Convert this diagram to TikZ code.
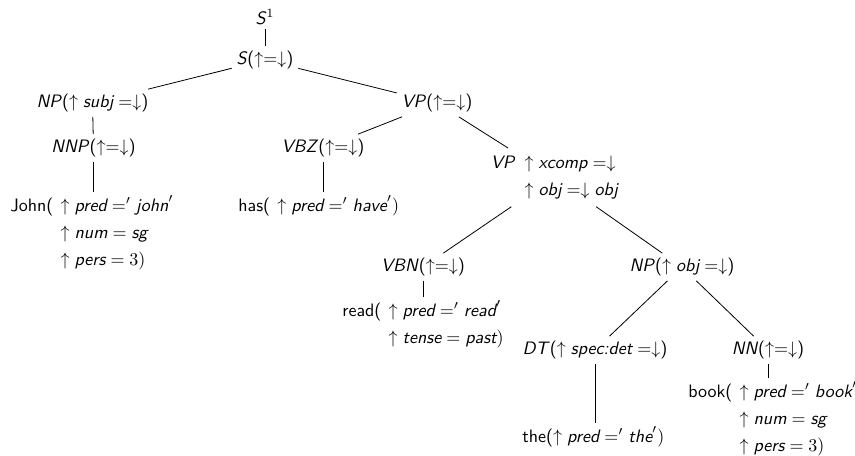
\documentclass[tikz,border=0pt]{standalone}
\tikzset{
  cat/.style={font=\sffamily, inner sep=2.5pt},
  leaf/.style={font=\sffamily, inner xsep=0pt, inner ysep=2pt, anchor=base west},
  edge/.style={line width=0.45pt}
}
\newcommand{\rowgap}{3.2pt}
\newcommand{\colgap}{4pt}
\begin{document}
\begin{tikzpicture}[x=0.5556pt, y=-0.5556pt]
\useasboundingbox (0,0) rectangle (855,456);
% category nodes
\node[cat] (s1) at (265,17) {\textit{S}$^1$};
\node[cat] (s) at (265,60) {\textit{S}($\uparrow=\downarrow$)};
\node[cat] (np) at (92.5,103) {\textit{NP}($\uparrow \textit{subj} =\downarrow$)};
\node[cat] (vp) at (437,103) {\textit{VP}($\uparrow=\downarrow$)};
\node[cat] (nnp) at (93.5,148) {\textit{NNP}($\uparrow=\downarrow$)};
\node[cat] (vbz) at (323,148) {\textit{VBZ}($\uparrow=\downarrow$)};
\node[cat, anchor=base west] (vpx) at (486,168) {\begin{tabular}[t]{@{}l@{\hspace{5pt}}l@{}}\textit{VP} & $\uparrow \textit{xcomp} =\downarrow$\\[\rowgap] & $\uparrow \textit{obj} =\downarrow \textit{obj}$\end{tabular}};
\node[cat] (vbn) at (423,267) {\textit{VBN}($\uparrow=\downarrow$)};
\node[cat] (np2) at (682,267) {\textit{NP}($\uparrow \textit{obj} =\downarrow$)};
\node[cat] (dt) at (595,350) {\textit{DT}($\uparrow \textit{spec:det} =\downarrow$)};
\node[cat] (nn) at (768,350) {\textit{NN}($\uparrow=\downarrow$)};
% leaves
\node[leaf] (john) at (10,211) {\begin{tabular}[t]{@{}l@{\hspace{\colgap}}l@{}}John( & $\uparrow \textit{pred} =' \textit{john}'$\\[\rowgap] & $\uparrow \textit{num} = \textit{sg}$\\[\rowgap] & $\uparrow \textit{pers} = 3)$\end{tabular}};
\node[leaf] (has) at (238,211) {\begin{tabular}[t]{@{}l@{\hspace{\colgap}}l@{}}has( & $\uparrow \textit{pred} =' \textit{have}')$\end{tabular}};
\node[leaf] (read) at (342,316) {\begin{tabular}[t]{@{}l@{\hspace{\colgap}}l@{}}read( & $\uparrow \textit{pred} =' \textit{read}'$\\[\rowgap] & $\uparrow \textit{tense} = \textit{past})$\end{tabular}};
\node[leaf] (the) at (522,442) {\begin{tabular}[t]{@{}l@{}}the($\uparrow \textit{pred} =' \textit{the}')$\end{tabular}};
\node[leaf] (book) at (688,397) {\begin{tabular}[t]{@{}l@{\hspace{\colgap}}l@{}}book( & $\uparrow \textit{pred} =' \textit{book}'$\\[\rowgap] & $\uparrow \textit{num} = \textit{sg}$\\[\rowgap] & $\uparrow \textit{pers} = 3)$\end{tabular}};
% edges
\draw[edge] (s1) -- (s);
\draw[edge] (s) -- (np);
\draw[edge] (s) -- (vp);
\draw[edge] (np) -- (nnp);
\draw[edge] (nnp) -- (nnp |- john.north);
\draw[edge] (vp) -- (vbz);
\draw[edge] (vp) -- (vpx);
\draw[edge] (vbz) -- (vbz |- has.north);
\draw[edge] (vpx) -- (vbn);
\draw[edge] (vpx) -- (np2);
\draw[edge] (vbn) -- (vbn |- read.north);
\draw[edge] (np2) -- (dt);
\draw[edge] (np2) -- (nn);
\draw[edge] (dt) -- (dt |- the.north);
\draw[edge] (nn) -- (nn |- book.north);
\end{tikzpicture}
\end{document}
